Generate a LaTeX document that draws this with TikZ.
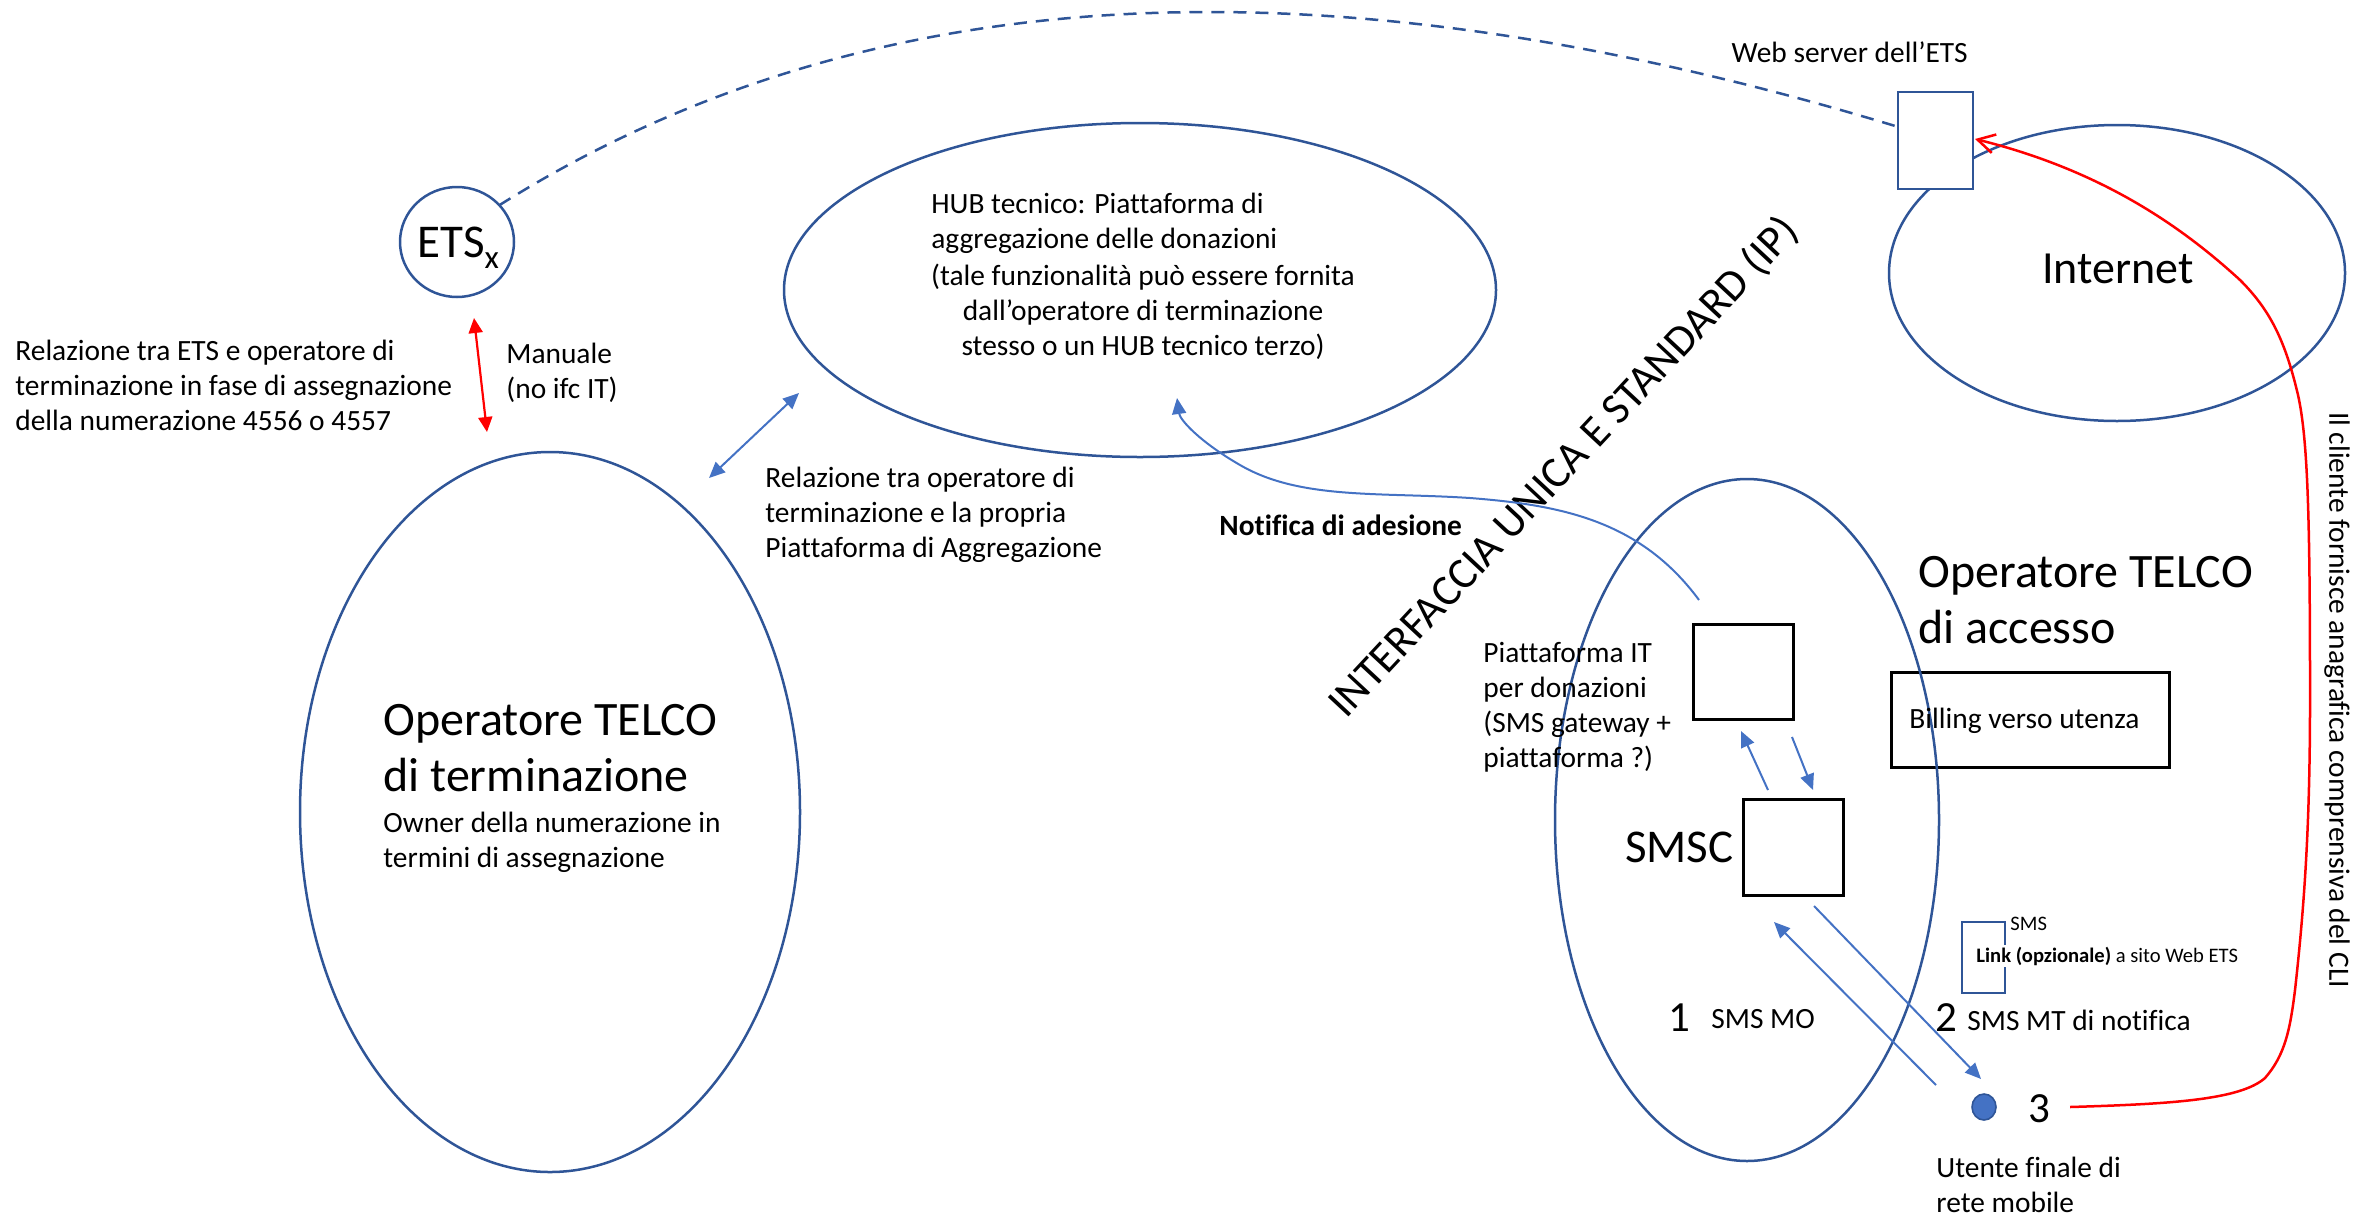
\documentclass[tikz,border=0pt]{standalone}
\usepackage{fontspec}
\setmainfont{Carlito}[Ligatures=NoCommon]
\usetikzlibrary{shapes.geometric,arrows.meta}

\definecolor{darkblue}{HTML}{2F5597}
\definecolor{accent}{HTML}{4472C4}
\definecolor{alertred}{HTML}{FF0000}

% multi-line labels whose anchor is the baseline of the first line
\newcommand{\leftlines}[1]{\begin{tabular}[t]{@{}l@{}}#1\end{tabular}}
\newcommand{\centerlines}[1]{\begin{tabular}[t]{@{}c@{}}#1\end{tabular}}

\tikzset{
  zone/.style={ellipse, draw=darkblue, line width=1.25pt, inner sep=0pt, outer sep=0pt},
  blackbox/.style={rectangle, draw=black, line width=1.5pt, inner sep=0pt, outer sep=0pt},
  bluebox/.style={rectangle, draw=darkblue, line width=1.25pt, fill=white, inner sep=0pt, outer sep=0pt},
  body/.style={font=\fontsize{14.7}{17.5}\selectfont, inner sep=0pt},
  tinytext/.style={font=\fontsize{10.3}{12}\selectfont, inner sep=0pt},
  title/.style={font=\fontsize{24}{28.25}\selectfont, inner sep=0pt},
  label/.style={font=\fontsize{23}{28}\selectfont, inner sep=0pt},
  stepnum/.style={font=\fontsize{21.5}{26}\selectfont, inner sep=0pt},
  flow/.style={draw=accent, line width=1pt, -{Triangle[length=8pt,width=7pt]}},
  biflow/.style={draw=accent, line width=1pt, {Triangle[length=8pt,width=7pt]}-{Triangle[length=8pt,width=7pt]}},
  manual/.style={draw=alertred, line width=1.1pt, {Triangle[length=7.5pt,width=7pt]}-{Triangle[length=7.5pt,width=7pt]}},
  datafeed/.style={draw=alertred, line width=1.25pt, -{Straight Barb[length=8.5pt,width=9.5pt]}},
  weblink/.style={draw=darkblue, line width=1.25pt, dash pattern=on 6.5pt off 4.5pt},
}

\begin{document}
\begin{tikzpicture}[x=0.5pt,y=-0.5pt]
\useasboundingbox (0,0) rectangle (2364,1216);

% ---------- zones ----------
\node[zone, minimum width=57pt, minimum height=55pt] (ets) at (457,242) {};
\node[zone, minimum width=356pt, minimum height=167pt] (hub) at (1140,290) {};
\node[zone, minimum width=250pt, minimum height=360pt] (term) at (550,812) {};
\node[zone, minimum width=228pt, minimum height=148pt] (internet) at (2117,273) {};

% ---------- boxes of the access operator ----------
\node[blackbox, minimum width=139pt, minimum height=47.5pt] (billing) at (2030,719.5) {};
\node[blackbox, minimum width=50pt, minimum height=47.5pt] (platform) at (1743,671.5) {};
\node[blackbox, minimum width=50pt, minimum height=48pt] (smsc) at (1793,847) {};
\node[zone, minimum width=192pt, minimum height=341pt] (access) at (1747,820) {};

% ---------- web server and SMS ----------
\node[bluebox, minimum width=37.5pt, minimum height=48.5pt] (web) at (1935.5,140.5) {};
\node[bluebox, fill=none, line width=1.2pt, minimum width=21.5pt, minimum height=35.5pt] (smsbox) at (1983.5,957.5) {};
\node[ellipse, draw=darkblue, fill=accent, line width=0.8pt, inner sep=0pt,
      minimum width=12pt, minimum height=13pt] (user) at (1984,1107) {};

% ---------- texts ----------
\node[font=\fontsize{23.5}{28}\selectfont, inner sep=0pt, anchor=base west] (etslabel) at (417,257)
  {ETS\raisebox{-5.5pt}{\fontsize{16.5}{16.5}\selectfont x}};
\node[body, anchor=base west] (manualtext) at (506,363) {\leftlines{Manuale\\(no ifc IT)}};
\node[body, anchor=base west] (etsrel) at (15,360)
  {\leftlines{Relazione tra ETS e operatore di\\terminazione in fase di assegnazione\\della numerazione 4556 o 4557}};
\node[body, anchor=base west] (hubtitle) at (931,213)
  {\leftlines{HUB tecnico: Piattaforma di\\aggregazione delle donazioni}};
\node[body, anchor=base] (hubnote) at (1143,285)
  {\centerlines{(tale funzionalità può essere fornita\\dall’operatore di terminazione\\stesso o un HUB tecnico terzo)}};
\node[body, anchor=base west] (oprel) at (765,487)
  {\leftlines{Relazione tra operatore di\\terminazione e la propria\\Piattaforma di Aggregazione}};
\node[title, anchor=base west] (termtitle) at (383,735) {\leftlines{Operatore TELCO\\di terminazione}};
\node[body, anchor=base west] (termsub) at (383,832)
  {\leftlines{Owner della numerazione in\\termini di assegnazione}};
\node[body, font=\fontsize{14.7}{17.5}\selectfont\bfseries, anchor=base west] (notif) at (1219,535) {Notifica di adesione};
\node[font=\fontsize{22}{26}\selectfont, inner sep=0pt, anchor=base west, rotate=47] (iface) at (1346,720)
  {INTERFACCIA UNICA E STANDARD (IP)};
\node[body, anchor=base west] (platformtext) at (1483,662)
  {\leftlines{Piattaforma IT\\per donazioni\\(SMS gateway +\\piattaforma ?)}};
\node[label, font=\fontsize{23.5}{28}\selectfont, anchor=base east] (smsclabel) at (1734,862) {SMSC};
\node[title, anchor=base west] (accesstitle) at (1918,587) {\leftlines{Operatore TELCO\\di accesso}};
\node[body, anchor=base west] (billingtext) at (1909,728) {Billing verso utenza};
\node[body, anchor=base east] (webtitle) at (1968,62) {Web server dell’ETS};
\node[label, anchor=base] (internettext) at (2118,283) {Internet};
\node[stepnum, anchor=base west] (one) at (1668,1031) {1};
\node[body, anchor=base west] (smsmo) at (1711,1028) {SMS MO};
\node[stepnum, anchor=base west] (two) at (1935,1031) {2};
\node[body, anchor=base west] (smsmt) at (1967,1030) {SMS MT di notifica};
\node[stepnum, anchor=base west] (three) at (2028,1122) {3};
\node[tinytext, anchor=base west] (smsword) at (2010,930) {SMS};
\node[tinytext, fill=white, inner ysep=1pt, anchor=base west] (linktext) at (1976,962)
  {\textbf{Link (opzionale)} a sito Web ETS};
\node[body, anchor=base west] (usertext) at (1936,1177) {\leftlines{Utente finale di\\rete mobile}};
\node[body, rotate=-90] (cliente) at (2337,700) {Il cliente fornisce anagrafica comprensiva del CLI};

% ---------- connector end points ----------
\coordinate (etsArrow) at (474,318);
\coordinate (termArrow) at (487,432);
\coordinate (hubArrow) at (799,393);
\coordinate (termHub) at (709,478);
\coordinate (notifStart) at (1699,600);
\coordinate (notifEnd) at (1177,398);
\coordinate (smscUp) at (1768,790);
\coordinate (platformIn) at (1741,731);
\coordinate (platformOut) at (1792,737);
\coordinate (smscIn) at (1813,790);
\coordinate (userOut) at (1936,1085);
\coordinate (smscMo) at (1774,922);
\coordinate (smscMt) at (1814,906);
\coordinate (userIn) at (1981,1079);
\coordinate (userLine) at (2070,1107);
\coordinate (webIn) at (1975,139);

% ---------- connectors ----------
\draw[weblink] (ets.41) .. controls (850,-15) and (1300,-55) .. (web.160);
\draw[manual] (etsArrow) -- (termArrow);
\draw[biflow] (termHub) -- (hubArrow);
\draw[flow] (notifStart) .. controls (1640,520) and (1560,505) .. (1470,498)
  .. controls (1380,492) and (1300,500) .. (1240,465)
  .. controls (1200,442) and (1180,420) .. (notifEnd);
\draw[flow] (smscUp) -- (platformIn);
\draw[flow] (platformOut) -- (smscIn);
\draw[flow] (userOut) -- (smscMo);
\draw[flow] (smscMt) -- (userIn);
\draw[datafeed] (userLine) .. controls (2170,1104) and (2240,1100) .. (2265,1078)
  .. controls (2285,1055) and (2290,1030) .. (2295,990)
  .. controls (2305,900) and (2310,820) .. (2310,700)
  .. controls (2310,520) and (2308,440) .. (2298,395)
  .. controls (2285,340) and (2270,310) .. (2240,280)
  .. controls (2180,225) and (2100,170) .. (webIn);
\end{tikzpicture}
\end{document}
